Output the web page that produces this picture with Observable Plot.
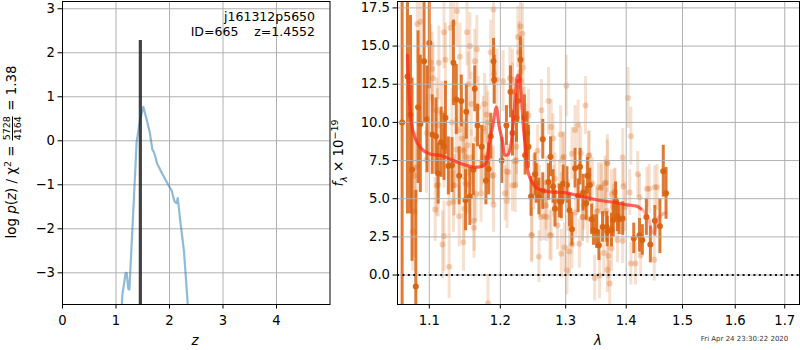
<!DOCTYPE html>
<html>
<head>
<meta charset="utf-8">
<script src="https://cdn.jsdelivr.net/npm/d3@7"></script>
<script src="https://cdn.jsdelivr.net/npm/@observablehq/plot@0.6"></script>
<style>
html,body{margin:0;padding:0;background:#fff;overflow:hidden}
#fig{position:relative;width:800px;height:350px;font-family:"DejaVu Sans",sans-serif;color:#000}
#fig svg{position:absolute;top:0;background:none}
.lab{position:absolute;white-space:nowrap;font-size:13.4px;line-height:1}
.rot{transform:translate(-50%,-50%) rotate(-90deg)}
.i{font-style:italic}
.frac{display:inline-block;vertical-align:middle;text-align:center;font-size:9.5px;line-height:9.5px;margin:0 1px}
.frac span{display:block}
.frac .n{border-bottom:1px solid #000;padding-bottom:0}
sup{font-size:9.5px;line-height:0}
sub{font-size:9.5px;line-height:0}
</style>
</head>
<body>
<div id="fig"></div>
<script>
// left panel: log p(z)
const zGrid = [1.09,1.118,1.18,1.2,1.23,1.25,1.305,1.354,1.385,1.447,1.51,1.57,1.63,1.68,1.71,1.77,1.865,2.0,2.04,2.09,2.13,2.155,2.2,2.27,2.33,2.35];
const logPz = [-4.2,-3.52,-3,-3,-3.36,-3.38,-2.04,-0.83,-0.03,0.46,0.77,0.5,0.2,-0.2,-0.26,-0.52,-0.75,-1.05,-1.13,-1.37,-1.42,-1.3,-1.81,-2.5,-3.52,-3.9];
const zBest = 1.4552;
const zBestTop = 2.28;
const zTicks = [0,1,2,3,4];
const logTicks = [-3,-2,-1,0,1,2,3];
const objectName = "j161312p5650";
const objectInfo = "ID=665\u00a0\u00a0\u00a0\u00a0z=1.4552";
const stamp = "Fri Apr 24 23:30:22 2020";

// right panel: strong spectrum points
const darkLam = [1.064,1.071,1.075,1.077,1.082,1.085,1.088,1.093,1.097,1.1,1.104,1.109,1.112,1.116,1.12,1.122,1.126,1.131,1.133,1.137,1.141,1.144,1.15,1.151,1.156,1.161,1.163,1.167,1.173,1.179,1.183,1.186,1.19,1.191,1.202,1.209,1.215,1.218,1.224,1.226,1.23,1.236,1.24,1.242,1.237,1.246,1.252,1.254,1.258,1.264,1.264,1.273,1.276,1.28,1.283,1.29,1.293,1.296,1.302,1.306,1.31,1.315,1.32,1.323,1.328,1.333,1.335,1.339,1.342,1.345,1.35,1.354,1.36,1.367,1.368,1.375,1.378,1.382,1.385,1.388,1.394,1.413,1.423,1.428,1.435,1.442,1.45,1.459,1.465,1.47];
const darkFlux = [10,13,10.5,6.9,-0.75,11,9.9,14,10.2,15.2,9.2,9.1,6.65,8.7,8.4,10.3,7.15,7.2,13.9,11.5,6.5,11.4,4.9,10.7,5.15,6.9,12.2,9.8,8.4,6.2,6.95,9.1,14,12.8,7.5,9.8,12,9.3,10.3,11.4,14.1,10.3,9.3,8.4,7.85,5.15,6.6,6,5.15,8.9,5.5,6.1,7.75,5.8,4.35,4.85,4.8,6,5.9,4.25,3,7,5.2,7.1,5.4,4.7,6.5,5.9,3.65,2.95,2.85,1.95,3.15,3.15,2.85,2.95,3.6,4.9,3.85,3.65,3.7,2.4,2.6,2.3,3.8,2,3.55,3.2,6.8,5.35];
const darkErr = [12,9,6.5,6,6.3,5,4.5,4,3.5,3,2.6,2.5,2,2.3,2.2,2.4,1.9,1.8,2.8,2.3,1.9,1.7,2,1.8,1.9,1.7,1.5,1.4,1.4,1.6,1.7,1.5,1.5,1.6,1.5,1.3,1.7,1.5,1.6,1.4,1.5,1.5,1.4,1.4,1.3,1.3,1.4,1.3,1.2,1.3,1.2,1.2,1.3,1.1,1.2,1.1,1.1,1.2,1.2,1.1,1.1,1.3,1.1,1.2,1.2,1.1,1.2,1.1,1,1,1.1,1,1,1,1,1.1,1.1,1.2,1,1,1.1,1,1.1,1,1.2,1.2,1,1.8,1.7,1.7];

// right panel: faint spectrum points
const lightLam = [1.078,1.08,1.084,1.088,1.097,1.102,1.104,1.105,1.108,1.111,1.112,1.113,1.118,1.12,1.12,1.122,1.127,1.127,1.129,1.131,1.133,1.133,1.135,1.137,1.141,1.142,1.147,1.148,1.148,1.15,1.15,1.153,1.154,1.156,1.158,1.162,1.162,1.163,1.168,1.172,1.172,1.175,1.177,1.18,1.182,1.182,1.186,1.19,1.19,1.191,1.195,1.204,1.207,1.21,1.212,1.214,1.218,1.218,1.222,1.224,1.226,1.228,1.23,1.23,1.231,1.233,1.234,1.236,1.238,1.247,1.258,1.262,1.266,1.27,1.273,1.277,1.277,1.28,1.287,1.292,1.293,1.297,1.298,1.301,1.302,1.306,1.31,1.31,1.315,1.32,1.322,1.327,1.332,1.338,1.347,1.35,1.355,1.358,1.362,1.362,1.365,1.368,1.368,1.37,1.372,1.375,1.38,1.385,1.394,1.403,1.406,1.408,1.408,1.416,1.42,1.425,1.436,1.449,1.45,
  1.296,1.324,1.337,1.343,1.353,1.25,1.259,1.283,1.281,1.29,1.316,1.329,1.261,1.247,1.275,1.304,1.327,1.352,1.269,1.335,1.293,1.27,1.256,1.368,1.394,1.364,1.358,1.381,1.375,1.395,1.44,1.454,1.423,1.398,1.378,1.367,1.11,1.117,1.141,1.145,1.153,1.147,1.096,1.081,1.133,1.11,1.083,1.18,1.242,1.165,1.224,1.221,1.209,1.218,1.188,1.158,1.165,1.175,
  1.138,1.19,1.12,1.152,1.166];
const lightFlux = [2.85,4.15,16.45,16.6,9.3,13.9,13.5,12.9,4.3,9.8,5.9,13.9,2,2.55,7.8,14.1,.55,4.7,16.2,10,16.5,4.8,5.9,8.2,3.85,14.3,2.15,4.35,8.2,6,7.75,5.9,12.5,15,11.2,3.1,3.55,14,11,7.4,5.35,9.6,11.2,7.85,-1.85,10,14.6,6.55,4.6,13.2,12.8,12.7,5.35,4.85,6.75,12.9,12.8,12,5.9,7.5,15.6,14.6,16.3,13.3,12.7,15.8,13.6,10.5,9.5,2.6,1.2,10.8,3.85,3.8,11.4,2.6,9.7,8.95,3.25,9.2,1.4,7.75,1.8,12.4,.3,1.55,2,7.95,9.5,9.85,2.05,3.8,11.1,7.85,-.2,4.15,-.05,5.75,1.45,4.05,6.05,.35,7.35,1.25,-.55,1.75,5.45,2.3,2.25,11.6,5.4,.75,9.1,.75,6.6,1.3,5.65,1,5.75,
  7.67,8,7.8,6,5.75,6.08,5.5,6.3,5.5,5.85,4.1,4.55,3.8,2.6,2.6,4.55,3.8,4.2,4.55,3.7,5.1,6.08,8.15,7.3,7.7,6,5.7,5.4,5.3,5.8,5.65,5.75,5.1,4.45,4.45,4.2,10.8,10.6,9.5,8.95,8.5,8.15,7.55,6.5,5.86,5.86,7.06,10.5,10.45,8.9,8.4,7.45,6.8,5.86,6.5,7.7,5.3,7.7,
  17.3,17.4,15.9,15.9,14.8];
const lightErr = [2.6,3,2.6,2.7,2.5,2.5,2.4,2.3,2.1,2.4,2.1,2.4,2.2,2.3,2.1,2.4,2.1,2.1,2.3,2.2,2.4,2,2,2.1,2,2.2,1.9,2,2,2,1.9,1.9,2.1,2.2,2.1,2,2,2.1,2,1.9,1.9,2.1,2,1.9,1.9,2,2.1,1.9,1.8,2,2,2,1.8,1.8,1.8,2,2,1.9,1.8,1.8,2,2,2.1,2,1.9,2,1.9,1.8,1.7,1.8,1.7,2,1.6,1.6,2.2,1.7,1.8,1.6,1.6,1.9,1.6,1.6,1.6,2,1.6,1.6,1.6,1.7,1.6,1.6,1.6,1.6,1.9,1.6,1.5,1.5,1.5,1.5,1.5,1.5,1.5,1.5,1.5,1.5,1.5,1.5,1.5,1.5,1.5,2,1.5,1.4,1.9,1.4,1.5,1.4,1.4,1.4,1.4,
  1.7,1.7,1.6,1.7,1.6,1.8,1.7,1.7,1.7,1.7,1.6,1.6,1.6,1.7,1.6,1.7,1.6,1.5,1.6,1.6,1.6,1.7,1.7,1.9,1.9,1.8,1.7,1.6,1.6,1.6,1.6,1.5,1.5,1.6,1.5,1.5,2.1,2.1,2,2,2,1.9,2.2,2.5,2,2,2.3,1.9,1.7,1.9,1.8,1.8,1.8,1.7,1.8,1.8,1.8,1.8,
  2.3,2.2,2.4,2.2,2.2];

// right panel: model
const modelLam = [1.071,1.073,1.076,1.081,1.09,1.1,1.118,1.133,1.15,1.163,1.172,1.18,1.182,1.184,1.189,1.192,1.194,1.198,1.2037,1.206,1.21,1.215,1.22,1.2245,1.2265,1.2315,1.234,1.2376,1.24,1.245,1.25,1.26,1.276,1.297,1.325,1.353,1.381,1.402,1.419,1.425];
const modelFlux = [14.4,11.9,10,9,8.25,7.95,7.8,7.5,7.2,7.05,7.1,7.4,8.05,8.7,9.8,10.6,11,9.8,8.6,7.85,7.85,8.35,10.4,12.9,13.1,11.6,9.9,8.3,7.1,6.3,5.9,5.6,5.45,5.4,5.15,4.9,4.75,4.6,4.5,4.35];
const tailLam = [1.425,1.43,1.44,1.445,1.449,1.455,1.47];
const tailFlux = [4.35,4.2,3.55,2.8,2.8,3.7,4.1];
const lamTicks = [1.1,1.2,1.3,1.4,1.5,1.6,1.7];
const fluxTicks = [0,2.5,5,7.5,10,12.5,15,17.5];

const FONT = '"DejaVu Sans", sans-serif', TICK = 13.2, GRID = "#b0b0b0", ORANGE = "#d9620f";
const idx = a => a.map((_, i) => i);

const left = Plot.plot({
  width: 345, height: 350, marginLeft: 62, marginRight: 15.5, marginTop: 1, marginBottom: 46,
  style: {fontFamily: FONT, fontSize: TICK + "px", background: "none", overflow: "visible"},
  x: {domain: [0, 5], label: null},
  y: {domain: [-3.72, 3.165], label: null},
  marks: [
    Plot.gridX(zTicks, {stroke: GRID, strokeOpacity: 1, strokeWidth: 1}),
    Plot.gridY(logTicks, {stroke: GRID, strokeOpacity: 1, strokeWidth: 1}),
    Plot.line(idx(zGrid), {x: i => zGrid[i], y: i => logPz[i], stroke: "#1f77b4", strokeOpacity: .5, strokeWidth: 2.2, clip: true}),
    Plot.ruleX([zBest], {y1: -3.72, y2: zBestTop, stroke: "#222", strokeOpacity: .85, strokeWidth: 3.2, strokeLinecap: "butt"}),
    Plot.frame({stroke: "#000", strokeWidth: 1, strokeOpacity: 1}),
    Plot.axisX({ticks: zTicks, tickSize: 4.5, tickPadding: 7, label: null, tickFormat: d3.format("d"), fontSize: TICK}),
    Plot.axisY({ticks: logTicks, tickSize: 4.5, tickPadding: 3, label: null, tickFormat: d3.format("d"), fontSize: TICK}),
    Plot.text([objectName], {frameAnchor: "top-right", dx: -15, dy: 11, textAnchor: "end", fontSize: 12.5, fill: "#000"}),
    Plot.text([objectInfo], {frameAnchor: "top-right", dx: -15, dy: 26, textAnchor: "end", fontSize: 12.5, fill: "#000"})
  ]
});
left.style.left = "0px";

const right = Plot.plot({
  width: 800, height: 350, marginLeft: 397, marginRight: 1, marginTop: 1, marginBottom: 46,
  style: {fontFamily: FONT, fontSize: TICK + "px", background: "none", overflow: "visible"},
  x: {type: "log", domain: [1.058, 1.731], label: null},
  y: {domain: [-1.93, 17.92], label: null},
  marks: [
    Plot.ruleX(idx(lightLam), {x: i => lightLam[i], y1: i => lightFlux[i] - lightErr[i], y2: i => lightFlux[i] + lightErr[i], stroke: ORANGE, strokeOpacity: .2, strokeWidth: 3, clip: true}),
    Plot.dot(idx(lightLam), {x: i => lightLam[i], y: i => lightFlux[i], r: 3, fill: ORANGE, fillOpacity: .28, clip: true}),
    Plot.ruleX(idx(darkLam), {x: i => darkLam[i], y1: i => darkFlux[i] - darkErr[i], y2: i => darkFlux[i] + darkErr[i], stroke: ORANGE, strokeOpacity: .85, strokeWidth: 3, clip: true}),
    Plot.dot(idx(darkLam), {x: i => darkLam[i], y: i => darkFlux[i], r: 3, fill: ORANGE, fillOpacity: .95, clip: true}),
    Plot.gridX(lamTicks, {stroke: GRID, strokeOpacity: 1, strokeWidth: 1}),
    Plot.gridY(fluxTicks, {stroke: GRID, strokeOpacity: 1, strokeWidth: 1}),
    Plot.ruleY([0], {stroke: "#000", strokeWidth: 2, strokeDasharray: "2 3.4", strokeOpacity: .9}),
    Plot.line(idx(modelLam), {x: i => modelLam[i], y: i => modelFlux[i], stroke: "#ff2a1a", strokeOpacity: .72, strokeWidth: 3.2, curve: "monotone-x", clip: true}),
    Plot.line(idx(tailLam), {x: i => tailLam[i], y: i => tailFlux[i], stroke: "#ff4a3a", strokeOpacity: .4, strokeWidth: 3.2, curve: "monotone-x", clip: true}),
    Plot.frame({stroke: "#000", strokeWidth: 1, strokeOpacity: 1}),
    Plot.axisX({ticks: lamTicks, tickSize: 4.5, tickPadding: 7, label: null, tickFormat: d3.format(".1f"), fontSize: TICK}),
    Plot.axisY({ticks: fluxTicks, tickSize: 4.5, tickPadding: 3, label: null, tickFormat: d3.format(".1f"), fontSize: TICK})
  ]
});
right.style.left = "0px";

const fig = document.getElementById("fig");
fig.append(right, left);

function label(html, x, y, rot, extra) {
  const d = document.createElement("div");
  d.className = "lab" + (rot ? " rot" : "");
  d.innerHTML = html;
  d.style.left = x + "px";
  d.style.top = y + "px";
  if (!rot) d.style.transform = "translate(-50%,-50%)";
  if (extra) Object.assign(d.style, extra);
  fig.append(d);
}
label('log <span class="i">p</span>(<span class="i">z</span>) / χ<sup>2</sup> = <span class="frac"><span class="n">5728</span><span>4164</span></span> = 1.38', 12, 152, true);
label('<span class="i">f</span><sub class="i">λ</sub> × 10<sup>−19</sup>', 339, 153, true);
label('<span class="i">z</span>', 195, 341, false);
label('<span class="i">λ</span>', 598, 341, false);
label(stamp, 744.5, 339, false, {fontSize: "7px", color: "#333"});
</script>
</body>
</html>
